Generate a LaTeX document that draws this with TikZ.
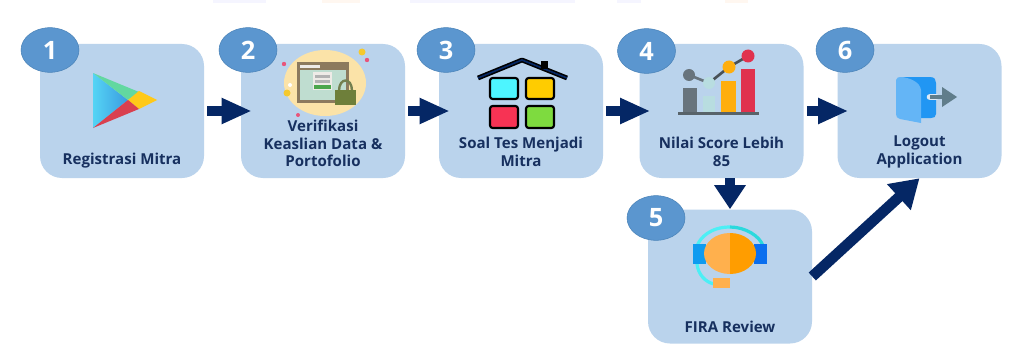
\documentclass[tikz,border=0pt]{standalone}
\usepackage{fontspec}
\setmainfont{Open Sans}
\usetikzlibrary{arrows.meta,shapes.geometric,calc}
\definecolor{boxblue}{HTML}{BAD3EC}
\definecolor{badgeblue}{HTML}{5B96CF}
\definecolor{badgeedge}{HTML}{4A83B8}
\definecolor{navy}{HTML}{052765}
\definecolor{labelnavy}{HTML}{17305F}
\definecolor{playA}{HTML}{55D4F5}
\definecolor{playB}{HTML}{3A9BE0}
\definecolor{playG}{HTML}{62D8A0}
\definecolor{playY}{HTML}{FFC918}
\definecolor{playR}{HTML}{D9404F}
\definecolor{paleO}{HTML}{FBE3A8}
\definecolor{winBg}{HTML}{BFDDD0}
\definecolor{winEdge}{HTML}{8C7A5E}
\definecolor{lockO}{HTML}{6E7F3A}
\definecolor{pinkD}{HTML}{E8557A}
\definecolor{yelD}{HTML}{F5C92E}
\definecolor{hCyan}{HTML}{4DF5FF}
\definecolor{hYel}{HTML}{FFCC00}
\definecolor{hRed}{HTML}{F73354}
\definecolor{hGreen}{HTML}{7EDB3F}
\definecolor{cGray}{HTML}{68747D}
\definecolor{cLight}{HTML}{B8DDE0}
\definecolor{cOrange}{HTML}{FFAE0D}
\definecolor{cRed}{HTML}{E0324E}
\definecolor{doorB}{HTML}{2196F3}
\definecolor{doorL}{HTML}{64B5F6}
\definecolor{doorArrow}{HTML}{607D8B}
\definecolor{headL}{HTML}{FFB04D}
\definecolor{headR}{HTML}{FF9D00}
\definecolor{earL}{HTML}{0F9BF0}
\definecolor{earR}{HTML}{0B6FEF}
\definecolor{arcL}{HTML}{4CEFF5}
\definecolor{arcR}{HTML}{2BD9DD}
\tikzset{
  stepbox/.style={rectangle,rounded corners=16.5pt,fill=boxblue,minimum width=123pt,minimum height=100.5pt,inner sep=0pt},
  badge/.style={ellipse,fill=badgeblue,draw=badgeedge,line width=0.4pt,minimum width=43.5pt,minimum height=33.5pt,inner sep=0pt,text=white,font=\fontsize{19}{19}\selectfont\bfseries},
  steplabel/.style={align=center,text=labelnavy,inner sep=0pt,yshift=-1.5pt,font=\fontsize{11.3}{13.3}\selectfont\bfseries},
  flow/.style={draw=navy,line width=7.2pt,shorten <=2.25pt,shorten >=-8.25pt,-{Triangle[length=22.5pt,width=18pt]}},
  flowdown/.style={draw=navy,line width=7.5pt,-{Triangle[length=18pt,width=22.5pt]}},
  flowdiag/.style={draw=navy,line width=8pt,-{Triangle[length=21pt,width=25pt]}},
  squarekey/.style={draw=black,line width=1.6pt,rounded corners=2pt}
}
\begin{document}
\begin{tikzpicture}[x=0.75pt,y=-0.75pt]
\useasboundingbox (0,0) rectangle (1019,360);
\fill[white] (0,0) rectangle (1019,360);
% faint remnants along the top edge
\fill[blue!4] (213,0) rectangle (266,3);
\fill[orange!6] (322,0) rectangle (360,3);
\fill[blue!4] (410,0) rectangle (575,3);
\fill[blue!4] (617,0) rectangle (641,3);
\fill[orange!6] (725,0) rectangle (748,3);

% boxes
\node[stepbox] (box1) at (122,111) {};
\node[stepbox] (box2) at (323,111) {};
\node[stepbox] (box3) at (521,111) {};
\node[stepbox] (box4) at (721.5,111) {};
\node[stepbox] (box6) at (919.5,111) {};
\node[stepbox] (box5) at (730,276.5) {};

% icon 1: play
\shade[left color=playA,right color=playB] (93,73) -- (128,100) -- (93,128) -- cycle;
\fill[playG] (93,73) -- (139,92) -- (128,100) -- cycle;
\fill[playY] (139,91) -- (157,100) -- (139,109) -- (128,100) -- cycle;
\fill[playR] (93,128) -- (128,100) -- (139,109) -- cycle;

% icon 2: verification
\fill[paleO] (325,83) ellipse[x radius=41,y radius=33];
\fill[winEdge] (297,62) rectangle (349,103);
\fill[winBg] (300,70) rectangle (346,100);
\fill[white!85!winEdge] (300,65) rectangle (320,68);
\fill[white!85!winEdge] (313,72) rectangle (332,90);
\fill[gray!60] (315,75) rectangle (330,78);
\fill[gray!60] (315,80) rectangle (330,83);
\fill[green!50!black!70!white] (314,85) rectangle (331,89);
\draw[lockO!70!gray,line width=1.8pt] (339,91) .. controls (339,77) and (352,77) .. (352,91);
\fill[lockO] (335,90) rectangle (356,105);
\fill[pinkD] (284,64) circle[radius=2.2];
\fill[pinkD] (367,60) circle[radius=2.2];
\fill[yelD] (362,52) circle[radius=3.5];
\fill[yelD] (287,93) circle[radius=3.5];
\fill[pinkD] (298,115) circle[radius=2];
\fill[white] (290,85) circle[radius=2];

% icon 3: house
\draw[black,line width=3.6pt,line join=round] (478,78) -- (522,60) -- (567,78);
\draw[navy,line width=1.2pt] (478,78) -- (522,60) -- (567,78);
\fill[black] (541,61) rectangle (548,69);
\draw[squarekey,fill=hCyan] (490,78) rectangle (518,99);
\draw[squarekey,fill=hYel] (526,78) rectangle (554,99);
\draw[squarekey,fill=hRed] (490,106) rectangle (518,128);
\draw[squarekey,fill=hGreen] (526,106) rectangle (554,128);

% icon 4: chart
\fill[cGray] (683,88) rectangle (697,112);
\fill[cLight] (703,96) rectangle (715,112);
\fill[cOrange] (721,81) rectangle (736,112);
\fill[cRed] (741,69) rectangle (755,112);
\fill[cGray!85!black] (678,111.5) rectangle (759,114.5);
\draw[cGray,line width=2pt] (689,75) -- (709,83);
\draw[cGray!70!black,line width=2pt] (709,83) -- (729,67) -- (748,56);
\fill[cGray] (689,75) circle[radius=6];
\fill[cLight] (709,83) circle[radius=6];
\fill[cOrange] (729,67) circle[radius=6.5];
\fill[cRed] (748,56) circle[radius=6.5];

% icon 6: door
\fill[doorB] (900,77) -- (930,77) .. controls (935,77) and (936,80) .. (936,83) -- (936,114) .. controls (936,117) and (934,118) .. (931,118) -- (912,118) -- cycle;
\fill[doorL] (896,80) .. controls (896,77) and (899,77) .. (902,77) .. controls (910,78) and (920,82) .. (921,90) -- (921,123) -- (900,119) .. controls (897,118) and (896,117) .. (896,114) -- cycle;
\draw[boxblue!50!white,line width=5pt,line cap=round] (930,97) -- (936,97);
\draw[doorArrow,line width=3.2pt] (930,97) -- (947,97);
\fill[doorArrow] (942,87) -- (957,97) -- (942,107) -- cycle;

% icon 5: headset
\draw[arcL,line width=2.4pt] (730,227) .. controls (710,227) and (700,238) .. (697,246);
\draw[arcR,line width=2.4pt] (730,227) .. controls (745,227) and (760,236) .. (763,246);
\draw[arcL,line width=2.4pt] (697,264) .. controls (698,274) and (705,282) .. (714,284);
\fill[earL] (693,244) rectangle (706,264);
\fill[earR] (754,244) rectangle (767,264);
\fill[headL] (730,233) arc[start angle=-90,end angle=-270,x radius=26,y radius=20.5] -- cycle;
\fill[headR] (730,233) arc[start angle=-90,end angle=90,x radius=26,y radius=20.5] -- cycle;
\fill[headL] (713,278) rectangle (730,288);

% labels
\node[steplabel] (label1) at (122,159) {Registrasi Mitra};
\node[steplabel] (label2) at (323,141.5) {Verifikasi\\Keaslian Data \&\\Portofolio};
\node[steplabel] (label3) at (521,150) {Soal Tes Menjadi\\Mitra};
\node[steplabel] (label4) at (721.5,150) {Nilai Score Lebih\\85};
\node[steplabel] (label6) at (919.5,150) {Logout\\Application};
\node[steplabel] (label5) at (730,325) {FIRA Review};

% badges
\node[badge] (badge1) at (50,50) {1};
\node[badge] (badge2) at (248,50) {2};
\node[badge] (badge3) at (446,50) {3};
\node[badge] (badge4) at (646.5,51) {4};
\node[badge] (badge6) at (845,50) {6};
\node[badge] (badge5) at (656,218) {5};

% connectors
\draw[flow] (box1) -- (box2);
\draw[flow] (box2) -- (box3);
\draw[flow] (box3) -- (box4);
\draw[flow] (box4) -- (box6);
\draw[flowdown] (box4.south -| box5.north) -- (box5.north);
\draw[flowdiag] (box5.east) -- (box6.south);
\end{tikzpicture}
\end{document}
